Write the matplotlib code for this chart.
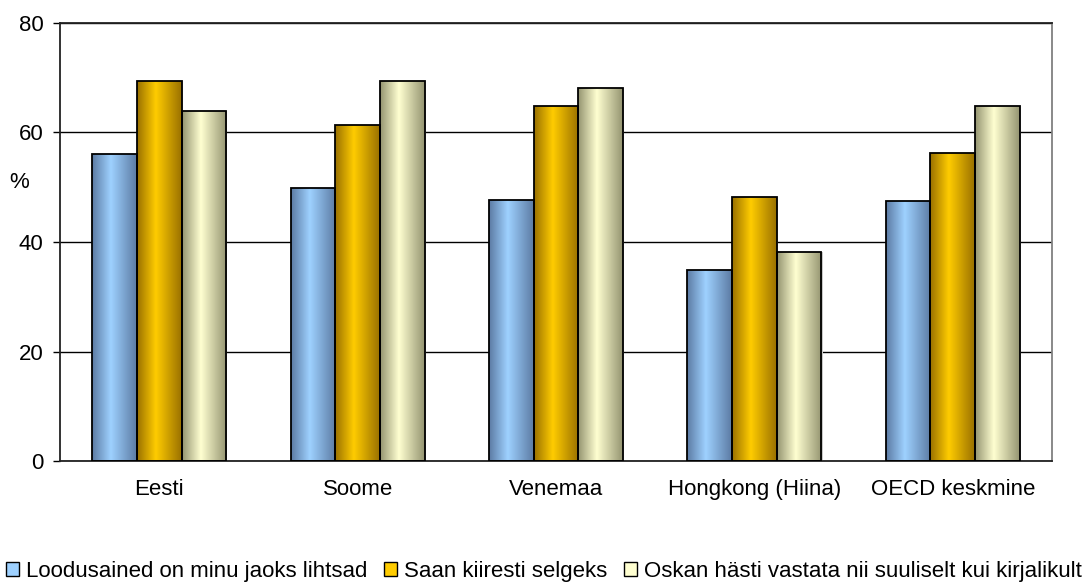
import numpy as np
import matplotlib
matplotlib.use("Agg")
import matplotlib.pyplot as plt
from matplotlib.colors import LinearSegmentedColormap
from matplotlib.patches import Patch

plt.rcParams['font.family'] = ['Liberation Sans', 'DejaVu Sans']

# andmed
riigid = ['Eesti', 'Soome', 'Venemaa', 'Hongkong (Hiina)', 'OECD keskmine']
lihtsad = [56.0, 49.8, 47.7, 34.9, 47.4]
selgeks = [69.4, 61.4, 64.8, 48.3, 56.3]
vastata = [63.9, 69.4, 68.1, 38.2, 64.8]
seeriad = ['Loodusained on minu jaoks lihtsad', 'Saan kiiresti selgeks',
           'Oskan hästi vastata nii suuliselt kui kirjalikult']

# värvid: serv, keskel
varvid = [((0.36, 0.48, 0.64), (0.62, 0.82, 1.0)),
          ((0.60, 0.44, 0.0), (1.0, 0.80, 0.0)),
          ((0.58, 0.58, 0.44), (1.0, 1.0, 0.82))]

fs = 16

fig = plt.figure(figsize=(10.88, 5.83), dpi=100)
ax = fig.add_axes([60/1088, 1-461/583, (1052-60)/1088, (461-23)/583])

x = np.arange(len(riigid))
w = 0.225
grad = np.linspace(0, 1, 256).reshape(1, -1)

for i, vals in enumerate([lihtsad, selgeks, vastata]):
    serv, kesk = varvid[i]
    cmap = LinearSegmentedColormap.from_list('g%d' % i, [(0, serv), (0.42, kesk), (1, serv)])
    bars = ax.bar(x + (i - 1) * w, vals, w, color='none', edgecolor='black', linewidth=1.3, zorder=3)
    for b in bars:
        bx, by = b.get_x(), b.get_y()
        bw, bh = b.get_width(), b.get_height()
        # väike vari
        ax.bar(bx + bw / 2 + 0.006, bh, bw, bottom=by, color='#c8c8c8', zorder=1.5, linewidth=0)
        im = ax.imshow(grad, cmap=cmap, aspect='auto', extent=[bx, bx + bw, by, by + bh], zorder=2)
        im.set_clip_path(b)

ax.set_xlim(-0.5, len(riigid) - 0.5)
ax.set_ylim(0, 80)
ax.set_yticks([0, 20, 40, 60, 80])
ax.set_xticks(x)
ax.set_xticklabels(riigid, fontsize=fs)
ax.tick_params(axis='x', length=0, pad=13)
ax.tick_params(axis='y', labelsize=fs, length=5, width=1, direction='out', pad=7)
ax.yaxis.grid(True, color='black', linewidth=1)
ax.set_axisbelow(True)
for s in ['left', 'bottom', 'top']:
    ax.spines[s].set_color('#222222')
    ax.spines[s].set_linewidth(1.3)
ax.spines['right'].set_color('#808080')
ax.spines['right'].set_linewidth(1.3)

fig.text(19/1088, 1 - 182/583, '%', fontsize=fs, ha='center', va='center')

handles = [Patch(facecolor=varvid[i][1], edgecolor='black', linewidth=1) for i in range(3)]
fig.legend(handles, seeriad, loc='center', bbox_to_anchor=(0.5, 1 - 571/583), ncol=3,
           frameon=False, fontsize=fs, handlelength=0.6, handleheight=0.6,
           handletextpad=0.3, columnspacing=0.75, borderpad=0, borderaxespad=0)

fig.savefig('out.png', dpi=100)
